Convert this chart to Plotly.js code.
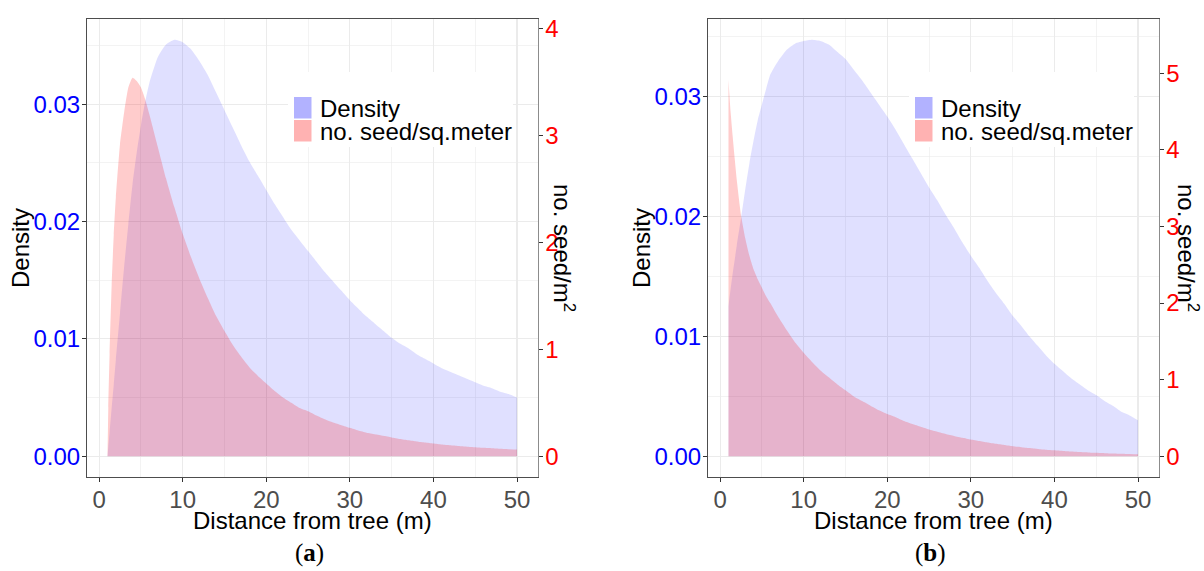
<!DOCTYPE html>
<html>
<head>
<meta charset="utf-8">
<script src="https://cdn.plot.ly/plotly-3.0.1.min.js"></script>
<style>html,body{margin:0;padding:0;background:#fff;}#chart{width:1204px;height:571px;}</style>
</head>
<body>
<div id="chart"></div>
<script>
// ---------- data ----------
const distance = [1, 1.1, 1.25, 1.5, 1.75, 2, 2.5, 3, 3.5, 4, 4.5, 5, 5.5, 6, 7, 8, 9, 10,
  11, 12, 13, 14, 15, 16, 17, 18, 19, 20, 21, 22, 23, 24, 25, 26, 27, 28, 29, 30,
  31, 32, 33, 34, 35, 36, 37, 38, 39, 40, 41, 42, 43, 44, 45, 46, 47, 48, 49, 50];

// panel (a)
const densityA = [0.0000, 0.0008, 0.0020, 0.0041, 0.0061, 0.0082, 0.0122, 0.0162, 0.0198, 0.0232, 0.0259, 0.0282, 0.0302, 0.0318, 0.0340, 0.0351, 0.0355, 0.0353,
  0.0347, 0.0337, 0.0325, 0.0310, 0.0295, 0.0280, 0.0265, 0.0251, 0.0239, 0.0227, 0.0215, 0.0204, 0.0193, 0.0184, 0.0175, 0.0166, 0.0157, 0.0149, 0.0141, 0.0133,
  0.0126, 0.0119, 0.0113, 0.0107, 0.0101, 0.0096, 0.0092, 0.0087, 0.0083, 0.0079, 0.0075, 0.0072, 0.0069, 0.0066, 0.0063, 0.0060, 0.0058, 0.0055, 0.0053, 0.0050];
const seedsA = [0, 0.45, 0.95, 1.60, 2.07, 2.42, 2.92, 3.22, 3.45, 3.54, 3.51, 3.45, 3.34, 3.20, 2.90, 2.60, 2.33, 2.08,
  1.86, 1.66, 1.48, 1.31, 1.17, 1.04, 0.93, 0.83, 0.75, 0.68, 0.61, 0.55, 0.50, 0.45, 0.42, 0.38, 0.345, 0.315, 0.29, 0.265,
  0.24, 0.22, 0.205, 0.19, 0.175, 0.16, 0.148, 0.137, 0.127, 0.118, 0.109, 0.102, 0.095, 0.089, 0.084, 0.078, 0.074, 0.069, 0.065, 0.062];

// panel (b)
const densityB = [0.0125, 0.0131, 0.0139, 0.0152, 0.0164, 0.0176, 0.0198, 0.0222, 0.0244, 0.0263, 0.0280, 0.0293, 0.0306, 0.0318, 0.0330, 0.0339, 0.0344, 0.0346,
  0.0347, 0.0346, 0.0343, 0.0337, 0.0331, 0.0322, 0.0313, 0.0303, 0.0293, 0.0283, 0.0272, 0.0260, 0.0248, 0.0236, 0.0224, 0.0213, 0.0201, 0.0190, 0.0178, 0.0167,
  0.0157, 0.0146, 0.0136, 0.0127, 0.0117, 0.0109, 0.0100, 0.0092, 0.0084, 0.0077, 0.0071, 0.0065, 0.0060, 0.0055, 0.0051, 0.0046, 0.0042, 0.0037, 0.0034, 0.0030];
const seedsB = [4.92, 4.74, 4.50, 4.18, 3.88, 3.60, 3.15, 2.85, 2.62, 2.44, 2.31, 2.20, 2.09, 2.00, 1.81, 1.64, 1.48, 1.35,
  1.23, 1.12, 1.03, 0.94, 0.86, 0.78, 0.72, 0.66, 0.60, 0.55, 0.51, 0.46, 0.42, 0.385, 0.35, 0.32, 0.29, 0.265, 0.24, 0.217,
  0.197, 0.178, 0.161, 0.146, 0.131, 0.118, 0.106, 0.095, 0.085, 0.076, 0.068, 0.061, 0.054, 0.049, 0.044, 0.039, 0.035, 0.031, 0.027, 0.024];

// secondary-axis scale (seeds per unit density)
const seedScaleA = 109.7;
const seedScaleB = 156.7;

const xTicks = [0, 10, 20, 30, 40, 50];
const densityTicks = [0, 0.01, 0.02, 0.03];
const seedTicksA = [0, 1, 2, 3, 4];
const seedTicksB = [0, 1, 2, 3, 4, 5];
const legendLabels = ['Density', 'no. seed/sq.meter'];
const panelLabels = ['(<b>a</b>)', '(<b>b</b>)'];
const xTitle = 'Distance from tree (m)';
const yTitle = 'Density';
const y2Title = 'no. seed/m<sup>2</sup>';

// ---------- layout helpers ----------
const W = 1204, H = 571;
const px = v => v / W;
const py = v => 1 - v / H;
const FONT = 'Liberation Sans, Arial, sans-serif';
const DENS_FILL = 'rgba(0,0,255,0.12)';
const SEED_FILL = 'rgba(255,0,0,0.2)';
const DENS_KEY = 'rgba(0,0,255,0.3)';
const SEED_KEY = 'rgba(255,0,0,0.3)';
const GRID = '#EBEBEB';

const panels = [
  {dens: densityA, seeds: seedsA, k: seedScaleA, seedTicks: seedTicksA, left: 87, right: 537.5, xa: 'x', ya: 'y', ya2: 'y2', label: panelLabels[0], y2x: 564},
  {dens: densityB, seeds: seedsB, k: seedScaleB, seedTicks: seedTicksB, left: 708, right: 1158.5, xa: 'x2', ya: 'y3', ya2: 'y4', label: panelLabels[1], y2x: 1188}
];
const TOP = 19, BOTTOM = 477;
const xmin = Math.min(...distance), xmax = Math.max(...distance);
const xpad = 0.05 * (xmax - xmin);

const traces = [];
const layout = {
  width: W, height: H,
  margin: {l: 0, r: 0, t: 0, b: 0},
  paper_bgcolor: '#fff', plot_bgcolor: 'rgba(0,0,0,0)',
  font: {family: FONT, size: 24, color: '#000'},
  showlegend: false,
  shapes: [], annotations: []
};

panels.forEach((p, i) => {
  traces.push({type: 'scatter', x: distance, y: p.dens, xaxis: p.xa, yaxis: p.ya,
    mode: 'none', fill: 'tozeroy', fillcolor: DENS_FILL, line: {shape: 'spline', smoothing: 0.5},
    name: legendLabels[0], hoverinfo: 'skip'});
  traces.push({type: 'scatter', x: distance, y: p.seeds, xaxis: p.xa, yaxis: p.ya2,
    mode: 'none', fill: 'tozeroy', fillcolor: SEED_FILL, line: {shape: 'spline', smoothing: 0.5},
    name: legendLabels[1], hoverinfo: 'skip'});

  const maxVal = Math.max(Math.max(...p.dens), Math.max(...p.seeds) / p.k);
  const yr = [-0.05 * maxVal, 1.05 * maxVal];
  const xName = i === 0 ? 'xaxis' : 'xaxis2';
  const yName = i === 0 ? 'yaxis' : 'yaxis3';
  const y2Name = i === 0 ? 'yaxis2' : 'yaxis4';
  layout[xName] = {
    domain: [px(p.left), px(p.right)], anchor: p.ya,
    range: [xmin - xpad, xmax + xpad],
    tickmode: 'array', tickvals: xTicks, ticktext: xTicks.map(String),
    showgrid: true, gridcolor: GRID, gridwidth: 1.1,
    minor: {showgrid: true, gridcolor: GRID, gridwidth: 0.6, dtick: 5, tick0: 0, ticks: ''},
    ticks: 'outside', ticklen: 4, tickwidth: 1, tickcolor: '#333', ticklabelstandoff: -3,
    tickfont: {size: 24, color: '#4D4D4D', family: FONT},
    showline: true, linecolor: '#4D4D4D', linewidth: 1, mirror: true,
    zeroline: false
  };
  layout[yName] = {
    domain: [py(BOTTOM), py(TOP)], anchor: p.xa,
    range: yr,
    tickmode: 'array', tickvals: densityTicks, ticktext: densityTicks.map(v => v.toFixed(2)),
    showgrid: true, gridcolor: GRID, gridwidth: 1.1,
    minor: {showgrid: true, gridcolor: GRID, gridwidth: 0.6, dtick: 0.005, tick0: 0, ticks: ''},
    ticks: 'outside', ticklen: 4, tickwidth: 1, tickcolor: '#333', ticklabelstandoff: -3,
    tickfont: {size: 24, color: '#0000FF', family: FONT},
    showline: true, linecolor: '#4D4D4D', linewidth: 1, mirror: false,
    zeroline: false
  };
  layout[y2Name] = {
    overlaying: p.ya, side: 'right', anchor: p.xa,
    range: [yr[0] * p.k, yr[1] * p.k],
    tickmode: 'array', tickvals: p.seedTicks, ticktext: p.seedTicks.map(String),
    showgrid: false, zeroline: false,
    ticks: 'outside', ticklen: 4, tickwidth: 1, tickcolor: '#333', ticklabelstandoff: -2,
    tickfont: {size: 24, color: '#FF0000', family: FONT},
    showline: true, linecolor: '#8C8C8C', linewidth: 1
  };

  const dx = p.left - 87;
  const cx = (p.left + p.right) / 2;
  // legend (white box, keys, labels)
  layout.shapes.push({type: 'rect', xref: 'paper', yref: 'paper', layer: 'above',
    x0: px(288 + dx), x1: px(513 + dx), y0: py(147), y1: py(72), fillcolor: '#fff', line: {width: 0}});
  layout.shapes.push({type: 'rect', xref: 'paper', yref: 'paper', layer: 'above',
    x0: px(294 + dx), x1: px(311.5 + dx), y0: py(118.5), y1: py(97), fillcolor: DENS_KEY, line: {width: 0}});
  layout.shapes.push({type: 'rect', xref: 'paper', yref: 'paper', layer: 'above',
    x0: px(294 + dx), x1: px(311.5 + dx), y0: py(141.5), y1: py(120), fillcolor: SEED_KEY, line: {width: 0}});
  layout.annotations.push({xref: 'paper', yref: 'paper', x: px(318 + dx), y: py(108.5), xanchor: 'left', yanchor: 'middle',
    text: legendLabels[0], showarrow: false, font: {size: 24, color: '#000', family: FONT}});
  layout.annotations.push({xref: 'paper', yref: 'paper', x: px(318 + dx), y: py(131), xanchor: 'left', yanchor: 'middle',
    text: legendLabels[1], showarrow: false, font: {size: 24, color: '#000', family: FONT}});
  // axis titles
  layout.annotations.push({xref: 'paper', yref: 'paper', x: px(cx), y: py(520), xanchor: 'center', yanchor: 'middle',
    text: xTitle, showarrow: false, font: {size: 24, color: '#000', family: FONT}});
  layout.annotations.push({xref: 'paper', yref: 'paper', x: px(p.left - 66), y: py(248), xanchor: 'center', yanchor: 'middle',
    text: yTitle, textangle: -90, showarrow: false, font: {size: 24, color: '#000', family: FONT}});
  layout.annotations.push({xref: 'paper', yref: 'paper', x: px(p.y2x), y: py(248), xanchor: 'center', yanchor: 'middle',
    text: y2Title, textangle: 90, showarrow: false, font: {size: 24, color: '#000', family: FONT}});
  // panel caption
  layout.annotations.push({xref: 'paper', yref: 'paper', x: px(cx - 3), y: py(553), xanchor: 'center', yanchor: 'middle',
    text: p.label, showarrow: false, font: {size: 25, color: '#000', family: 'Liberation Serif, DejaVu Serif, serif'}});
});

Plotly.newPlot('chart', traces, layout, {displayModeBar: false, staticPlot: true});
</script>
</body>
</html>
